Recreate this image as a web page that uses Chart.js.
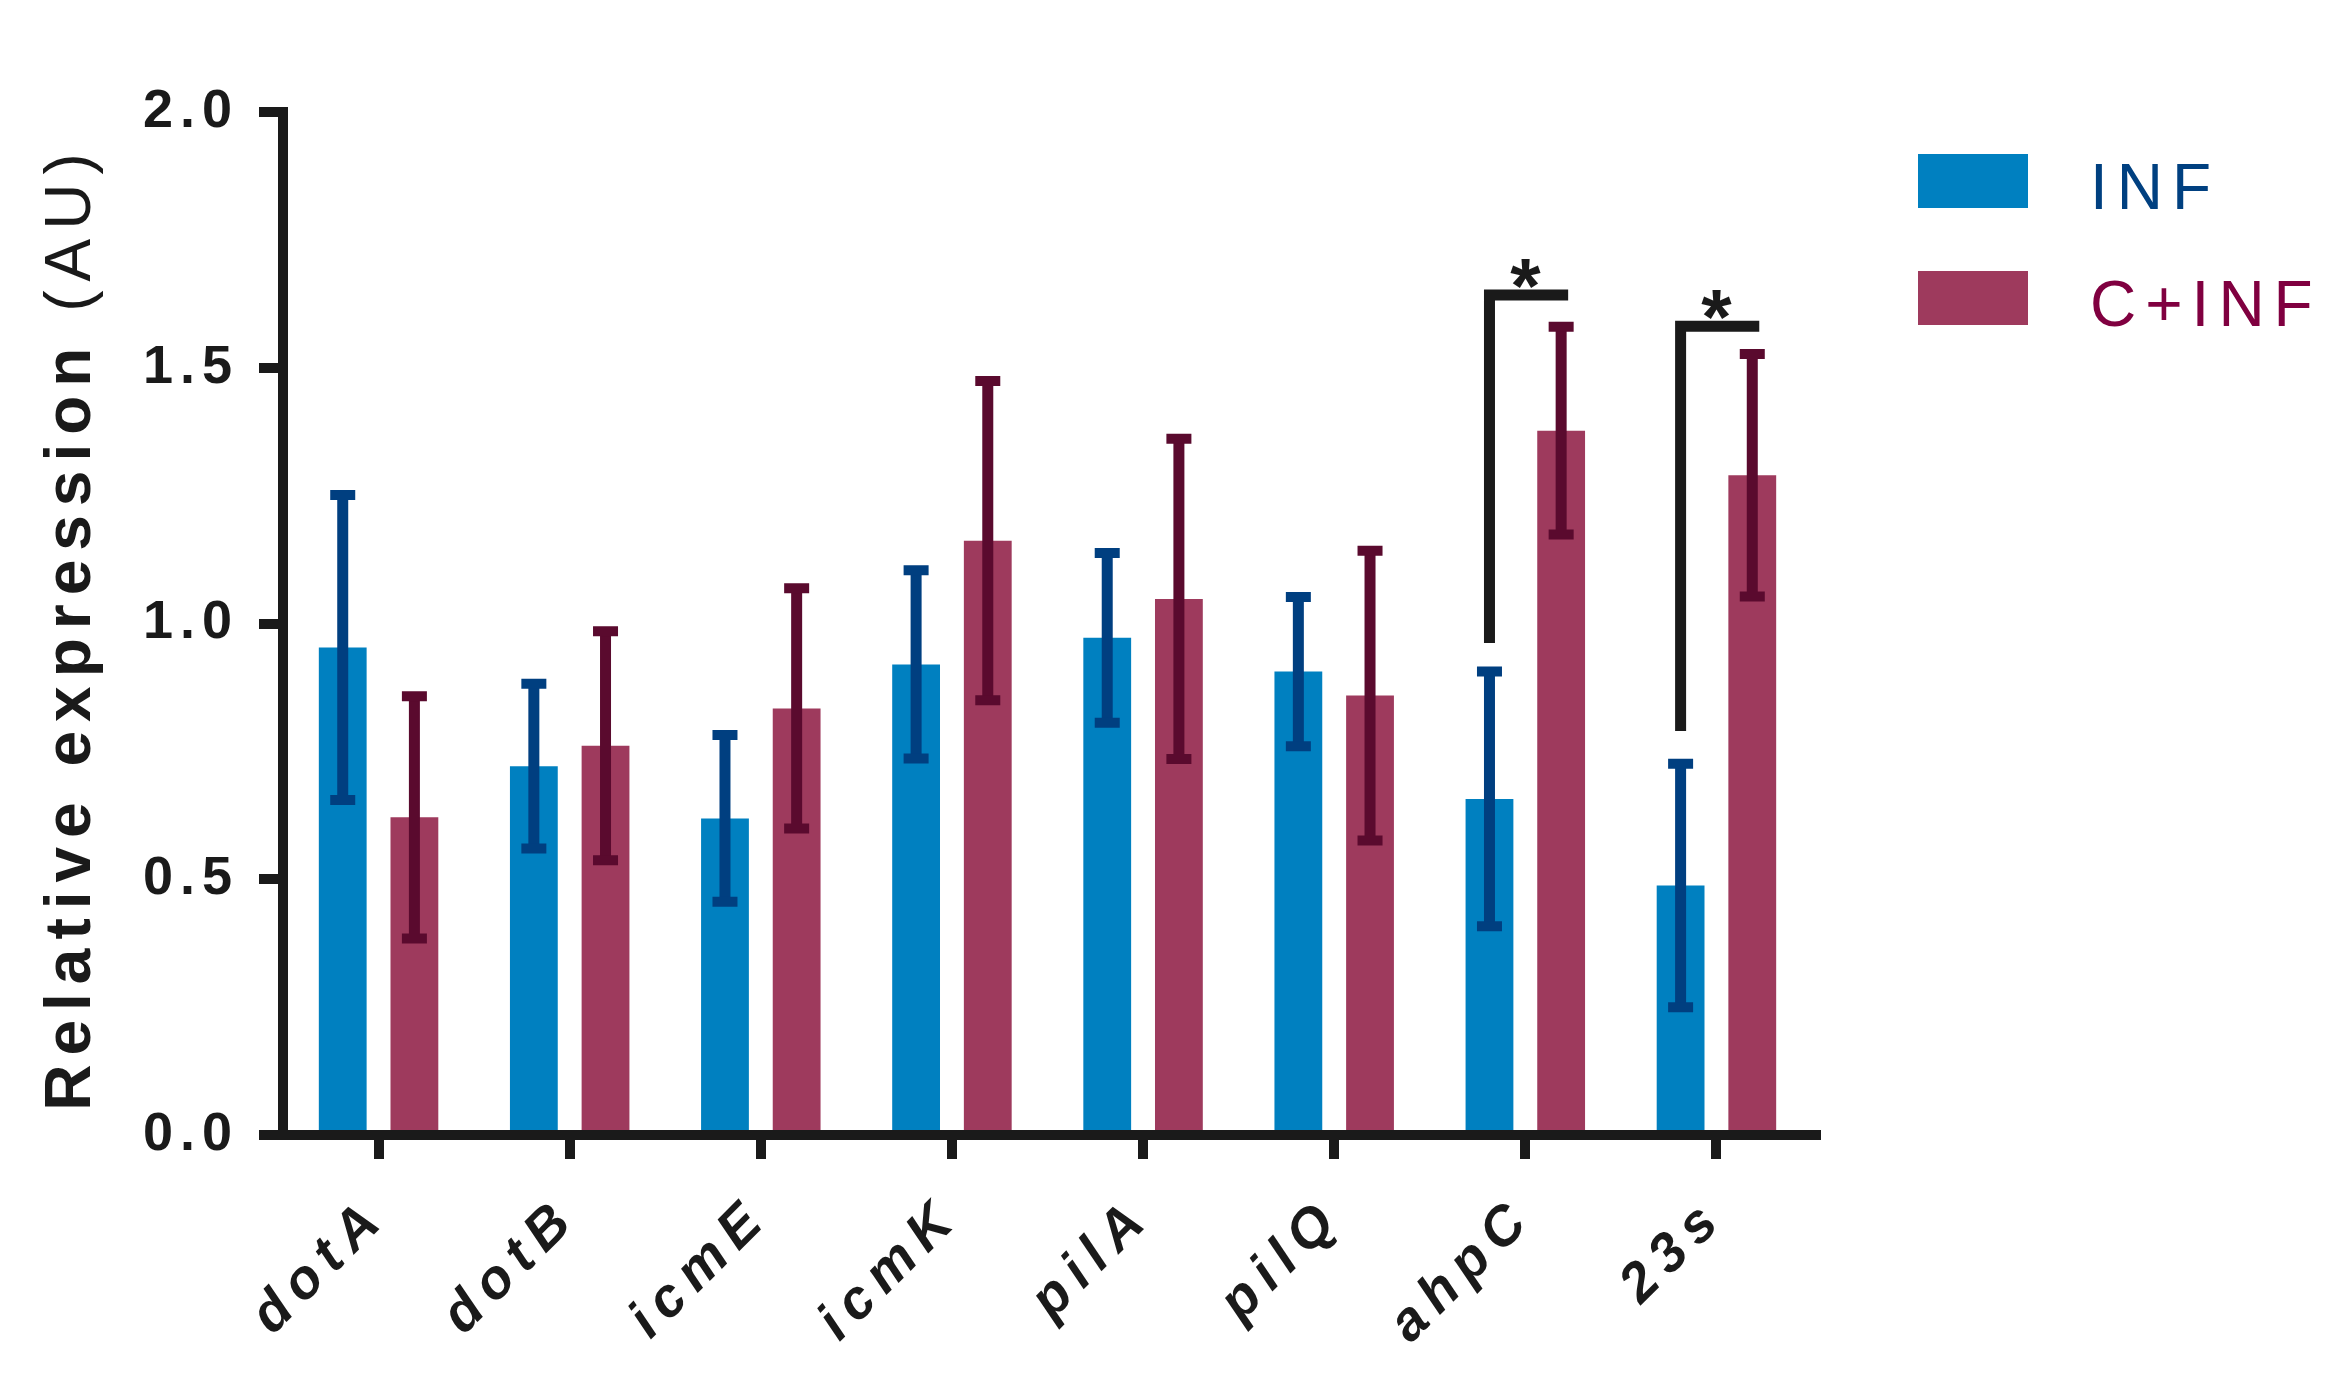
<!DOCTYPE html>
<html>
<head>
<meta charset="utf-8">
<style>
  html, body { margin: 0; padding: 0; background: #fff; }
  #chart { display: block; }
</style>
<script src="https://cdn.jsdelivr.net/npm/chart.js@4.4.1/dist/chart.umd.min.js"></script>
</head>
<body>
<canvas id="chart" width="2339" height="1392"></canvas>
<script>
// values
const genes = ['dotA', 'dotB', 'icmE', 'icmK', 'pilA', 'pilQ', 'ahpC', '23s'];
const seriesNames = ['INF', 'C+INF'];
const infMean = [0.953, 0.721, 0.619, 0.920, 0.972, 0.906, 0.657, 0.488];
const infErr = [0.298, 0.161, 0.163, 0.184, 0.166, 0.146, 0.249, 0.238];
const cinfMean = [0.621, 0.761, 0.834, 1.162, 1.048, 0.859, 1.377, 1.290];
const cinfErr = [0.237, 0.224, 0.235, 0.312, 0.313, 0.283, 0.203, 0.237];
const yTicks = [0, 0.5, 1.0, 1.5, 2.0];

// significance brackets (gene index, low end, high end)
const sigIndex = [6, 7];
const sigLow = [0.962, 0.790];
const sigHigh = [1.642, 1.581];
const sigLabel = ['*', '*'];

const barColors = ['#0080C0', '#9E3A5D'];
const errColors = ['#003F80', '#5A0A2E'];
const legendText = ['#004080', '#800040'];
const ink = '#1a1a1a';
const FONT = "'Liberation Sans', Arial, sans-serif";

const errors = [infErr, cinfErr];
const means = [infMean, cinfMean];

// letter spacing on tick labels (canvas has it, Chart.js doesn't expose it)
const spacing = { x: '10px', y: '7px' };
const spacingPlugin = {
  id: 'spacing',
  afterLayout(chart) {
    Object.values(chart.scales).forEach(scale => {
      if (scale._spaced) return;
      const orig = scale.drawLabels;
      scale.drawLabels = function(area) {
        const ctx = this.ctx;
        ctx.save();
        ctx.letterSpacing = spacing[this.id] || '0px';
        orig.call(this, area);
        ctx.restore();
      };
      scale._spaced = true;
    });
  }
};

// x axis line runs a little past the last category in the original
const axisTail = {
  id: 'axisTail',
  afterDraw(chart) {
    const a = chart.chartArea;
    const ctx = chart.ctx;
    ctx.save();
    ctx.strokeStyle = ink;
    ctx.lineWidth = 10;
    ctx.beginPath();
    ctx.moveTo(a.right - 1, a.bottom);
    ctx.lineTo(a.right + 9, a.bottom);
    ctx.stroke();
    ctx.restore();
  }
};

const errorBars = {
  id: 'errorBars',
  afterDatasetsDraw(chart) {
    const ctx = chart.ctx;
    const y = chart.scales.y;
    ctx.save();
    chart.data.datasets.forEach((ds, i) => {
      const meta = chart.getDatasetMeta(i);
      ctx.strokeStyle = errColors[i];
      meta.data.forEach((bar, j) => {
        const top = y.getPixelForValue(means[i][j] + errors[i][j]);
        const bot = y.getPixelForValue(means[i][j] - errors[i][j]);
        ctx.lineWidth = 11;
        ctx.beginPath();
        ctx.moveTo(bar.x, top);
        ctx.lineTo(bar.x, bot);
        ctx.stroke();
        ctx.lineWidth = 10;
        ctx.beginPath();
        ctx.moveTo(bar.x - 12.5, top);
        ctx.lineTo(bar.x + 12.5, top);
        ctx.moveTo(bar.x - 12.5, bot);
        ctx.lineTo(bar.x + 12.5, bot);
        ctx.stroke();
      });
    });
    ctx.restore();
  }
};

const brackets = {
  id: 'brackets',
  afterDatasetsDraw(chart) {
    const ctx = chart.ctx;
    const y = chart.scales.y;
    const m0 = chart.getDatasetMeta(0), m1 = chart.getDatasetMeta(1);
    ctx.save();
    ctx.strokeStyle = ink;
    ctx.fillStyle = ink;
    ctx.lineWidth = 11;
    ctx.lineJoin = 'miter';
    ctx.lineCap = 'butt';
    sigIndex.forEach((j, k) => {
      const x1 = m0.data[j].x;
      const x2 = m1.data[j].x + 7;
      const yl = y.getPixelForValue(sigLow[k]);
      const yh = y.getPixelForValue(sigHigh[k]);
      ctx.beginPath();
      ctx.moveTo(x1, yl);
      ctx.lineTo(x1, yh);
      ctx.lineTo(x2, yh);
      ctx.stroke();
      ctx.font = 'bold 78px ' + FONT;
      ctx.textAlign = 'center';
      ctx.textBaseline = 'alphabetic';
      ctx.fillText(sigLabel[k], (m0.data[j].x + m1.data[j].x) / 2, yh + 18);
    });
    ctx.restore();
  }
};

const yTitle = {
  id: 'yTitle',
  afterDraw(chart) {
    const ctx = chart.ctx;
    const a = chart.chartArea;
    ctx.save();
    ctx.letterSpacing = '9px';
    const bold = 'bold 64px ' + FONT;
    const reg = '64px ' + FONT;
    const p1 = 'Relative expression ';
    const p2 = '(AU)';
    ctx.font = bold;
    const w1 = ctx.measureText(p1).width;
    ctx.font = reg;
    const w2 = ctx.measureText(p2).width;
    ctx.translate(90, (a.top + a.bottom) / 2 + 4);
    ctx.rotate(-Math.PI / 2);
    ctx.fillStyle = ink;
    ctx.textBaseline = 'alphabetic';
    ctx.textAlign = 'left';
    const start = -(w1 + w2) / 2;
    ctx.font = bold;
    ctx.fillText(p1, start, 0);
    ctx.font = reg;
    ctx.fillText(p2, start + w1, 0);
    ctx.restore();
  }
};

const legendBoxes = {
  id: 'legendBoxes',
  afterDraw(chart) {
    const ctx = chart.ctx;
    const boxTops = [154, 271];
    ctx.save();
    ctx.letterSpacing = '9px';
    ctx.font = '64px ' + FONT;
    ctx.textBaseline = 'alphabetic';
    seriesNames.forEach((name, i) => {
      ctx.fillStyle = barColors[i];
      ctx.fillRect(1918, boxTops[i], 110, 54);
      ctx.fillStyle = legendText[i];
      ctx.fillText(name, 2090, boxTops[i] + 55);
    });
    ctx.restore();
  }
};

new Chart(document.getElementById('chart'), {
  type: 'bar',
  data: {
    labels: genes,
    datasets: [
      { label: seriesNames[0], data: infMean, backgroundColor: barColors[0] },
      { label: seriesNames[1], data: cinfMean, backgroundColor: barColors[1] }
    ]
  },
  options: {
    responsive: false,
    devicePixelRatio: 1,
    animation: false,
    layout: { padding: { left: 0, top: 112, right: 527, bottom: 0 } },
    categoryPercentage: 0.75,
    barPercentage: 0.667,
    plugins: {
      legend: { display: false },
      tooltip: { enabled: false }
    },
    scales: {
      x: {
        offset: true,
        grid: {
          offset: false,
          drawOnChartArea: false,
          drawTicks: true,
          tickLength: 24,
          lineWidth: 10,
          color: ink
        },
        border: { display: true, width: 10, color: ink },
        ticks: {
          color: ink,
          font: { family: FONT, size: 55, weight: 'bold', style: 'italic' },
          minRotation: 45,
          maxRotation: 45,
          padding: 26,
          autoSkip: false
        },
        afterFit(scale) { scale.height = 257; }
      },
      y: {
        min: 0,
        max: 2,
        afterBuildTicks(scale) { scale.ticks = yTicks.map(v => ({ value: v })); },
        grid: {
          drawOnChartArea: false,
          drawTicks: true,
          tickLength: 24,
          lineWidth: 10,
          color: ink
        },
        border: { display: true, width: 10, color: ink },
        ticks: {
          color: ink,
          font: { family: FONT, size: 54, weight: 'bold' },
          padding: 20,
          callback: v => v.toFixed(1)
        },
        afterFit(scale) { scale.width = 283; }
      }
    }
  },
  plugins: [spacingPlugin, axisTail, errorBars, brackets, yTitle, legendBoxes]
});
</script>
</body>
</html>
